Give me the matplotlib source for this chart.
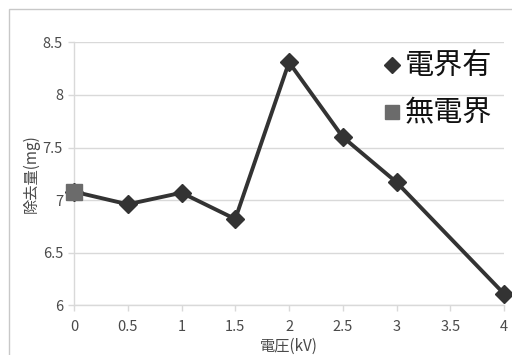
import matplotlib
matplotlib.use("Agg")
import matplotlib.pyplot as plt
from matplotlib.lines import Line2D
from matplotlib.patches import Rectangle

plt.rcParams['font.family'] = ['Noto Sans CJK JP', 'DejaVu Sans']

# Removal amount vs. applied voltage
voltage_kv = [0, 0.5, 1, 1.5, 2, 2.5, 3, 4]
removal_with_field = [7.08, 6.96, 7.07, 6.82, 8.31, 7.60, 7.17, 6.11]
no_field_x = [0]
no_field_y = [7.08]
x_ticks = [0, 0.5, 1, 1.5, 2, 2.5, 3, 3.5, 4]
x_tick_labels = ['0', '0.5', '1', '1.5', '2', '2.5', '3', '3.5', '4']
y_ticks = [6, 6.5, 7, 7.5, 8, 8.5]
y_tick_labels = ['6', '6.5', '7', '7.5', '8', '8.5']
label_with = '電界有'
label_without = '無電界'
x_title = '電圧(kV)'
y_title = '除去量(mg)'

W, H = 512, 355
fig = plt.figure(figsize=(W / 100, H / 100), dpi=100)

# chart-area border
fig.patches.append(Rectangle((9 / W, -0.2), 1.2, (H - 9) / H + 0.2,
                             transform=fig.transFigure, fill=False,
                             edgecolor='#c8c8c8', linewidth=1.0))

ax = fig.add_axes([74 / W, (H - 305.3) / H, 430 / W, 263 / H])
ax.set_xlim(0, 4)
ax.set_ylim(6, 8.5)

grid_c = '#d9d9d9'
text_c = '#4a4a4a'

ax.plot(voltage_kv, removal_with_field, color='#333333', linewidth=2.8,
        marker='D', markersize=9, markerfacecolor='#333333',
        markeredgecolor='#333333', clip_on=False, zorder=3)
ax.plot(no_field_x, no_field_y, linestyle='none', marker='s', markersize=11,
        markerfacecolor='#6b6b6b', markeredgecolor='#6b6b6b',
        clip_on=False, zorder=4)

ax.set_xticks(x_ticks)
ax.set_xticklabels(x_tick_labels)
ax.set_yticks(y_ticks)
ax.set_yticklabels(y_tick_labels)
ax.yaxis.grid(True, color=grid_c, linewidth=1.0)
ax.set_axisbelow(True)

for s in ['top', 'right']:
    ax.spines[s].set_visible(False)
for s in ['left', 'bottom']:
    ax.spines[s].set_color(grid_c)
    ax.spines[s].set_linewidth(1.0)

ax.tick_params(axis='both', colors=grid_c, labelcolor=text_c,
               labelsize=10.5, length=4, width=1.0)
ax.tick_params(axis='y', pad=4)
ax.tick_params(axis='x', pad=6.5)

ax.set_xlabel(x_title, fontsize=11, color=text_c, labelpad=3)
ax.set_ylabel(y_title, fontsize=11, color=text_c, labelpad=2)

handles = [
    Line2D([], [], linestyle='none', marker='D', markersize=8,
           color='#333333', label=label_with),
    Line2D([], [], linestyle='none', marker='s', markersize=10,
           color='#6b6b6b', label=label_without),
]
leg = ax.legend(handles=handles, loc='upper right', frameon=False,
                fontsize=21, handlelength=0.5, handletextpad=0.2,
                labelspacing=0.58, borderaxespad=0.0,
                bbox_to_anchor=(1.0, 1.008))
for t in leg.get_texts():
    t.set_color('#111111')

fig.savefig('out.png', dpi=100)
